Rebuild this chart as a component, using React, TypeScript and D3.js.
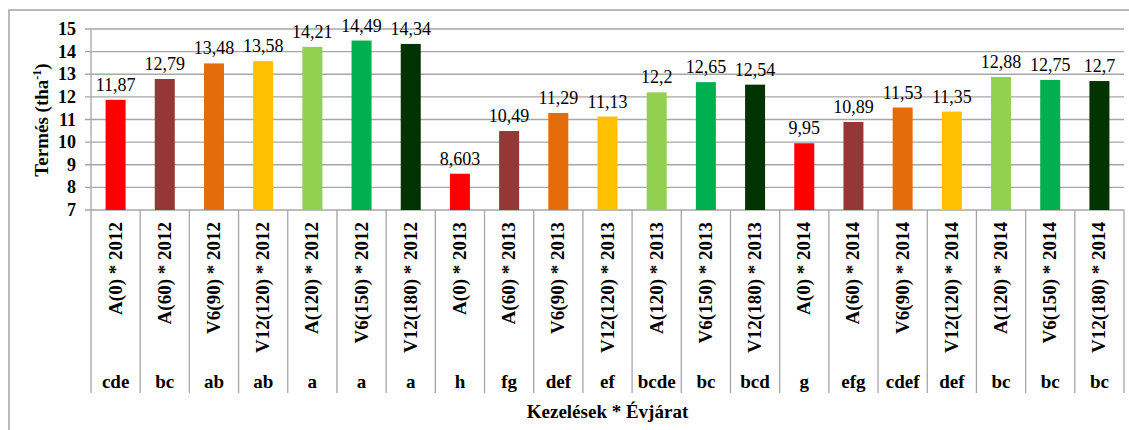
import React from "react";
import * as d3 from "d3";

const categories = [
  "A(0) * 2012", "A(60) * 2012", "V6(90) * 2012", "V12(120) * 2012", "A(120) * 2012", "V6(150) * 2012", "V12(180) * 2012",
  "A(0) * 2013", "A(60) * 2013", "V6(90) * 2013", "V12(120) * 2013", "A(120) * 2013", "V6(150) * 2013", "V12(180) * 2013",
  "A(0) * 2014", "A(60) * 2014", "V6(90) * 2014", "V12(120) * 2014", "A(120) * 2014", "V6(150) * 2014", "V12(180) * 2014",
];
const values = [
  11.87, 12.79, 13.48, 13.58, 14.21, 14.49, 14.34,
  8.603, 10.49, 11.29, 11.13, 12.2, 12.65, 12.54,
  9.95, 10.89, 11.53, 11.35, 12.88, 12.75, 12.7,
];
const valueLabels = [
  "11,87", "12,79", "13,48", "13,58", "14,21", "14,49", "14,34",
  "8,603", "10,49", "11,29", "11,13", "12,2", "12,65", "12,54",
  "9,95", "10,89", "11,53", "11,35", "12,88", "12,75", "12,7",
];
const letters = [
  "cde", "bc", "ab", "ab", "a", "a", "a",
  "h", "fg", "def", "ef", "bcde", "bc", "bcd",
  "g", "efg", "cdef", "def", "bc", "bc", "bc",
];
const treatmentColors = ["#ff0000", "#953735", "#e46c0a", "#ffc000", "#92d050", "#00b050", "#003300"];
const yTicks = [7, 8, 9, 10, 11, 12, 13, 14, 15];

const FONT = "Liberation Serif, DejaVu Serif, serif";

export default function App() {
  const W = 1129, H = 430;
  const left = 91, right = 1124, top = 29, bottom = 210, tableBottom = 393;
  const x = d3.scaleBand<string>().domain(categories).range([left, right]).padding(0);
  const y = d3.scaleLinear().domain([7, 15]).range([bottom, top]);
  const bw = 20;
  const grid = "#a6a6a6";
  const ts = { fontFamily: FONT };

  return (
    <svg width={W} height={H} style={{ position: "absolute", left: 0, top: 0, fontFamily: FONT }}>
      <rect x={0} y={0} width={W} height={H} fill="#fff" />
      <rect x={9} y={10} width={W + 10} height={H + 10} fill="none" stroke="#8c8c8c" strokeWidth={1.2} />
      {yTicks.map((t) => (
        <g key={t}>
          <line x1={left - 6} x2={right} y1={y(t)} y2={y(t)} stroke={grid} strokeWidth={1.3} />
          <text style={ts} x={76} y={y(t) + 6} textAnchor="end" fontSize={18} fontWeight="bold">{t}</text>
        </g>
      ))}
      {categories.map((c) => (
        <line key={c} x1={x(c)!} x2={x(c)!} y1={bottom} y2={tableBottom} stroke={grid} strokeWidth={1.3} />
      ))}
      <line x1={right} x2={right} y1={bottom} y2={tableBottom} stroke={grid} strokeWidth={1.3} />
      <line x1={left} x2={left} y1={top} y2={bottom} stroke={grid} strokeWidth={1.3} />
      {categories.map((c, i) => {
        const cx = x(c)! + x.bandwidth() / 2;
        return (
          <g key={c}>
            <rect x={cx - bw / 2} y={y(values[i])} width={bw} height={bottom - y(values[i])} fill={treatmentColors[i % 7]} />
            <text style={ts} x={cx} y={y(values[i]) - 9} textAnchor="middle" fontSize={18}>{valueLabels[i]}</text>
            <text style={ts} transform={`translate(${cx + 6},222) rotate(-90)`} textAnchor="end" fontSize={19} fontWeight="bold">{c}</text>
            <text style={ts} x={cx} y={388} textAnchor="middle" fontSize={19} fontWeight="bold">{letters[i]}</text>
          </g>
        );
      })}
      <text style={ts} x={(left + right) / 2} y={418} textAnchor="middle" fontSize={19} fontWeight="bold">Kezelések * Évjárat</text>
      <text style={ts} transform={`translate(48,120) rotate(-90)`} textAnchor="middle" fontSize={19} fontWeight="bold">
        Termés (tha<tspan dy={-7} fontSize={12}>-1</tspan><tspan dy={7}>)</tspan>
      </text>
    </svg>
  );
}
